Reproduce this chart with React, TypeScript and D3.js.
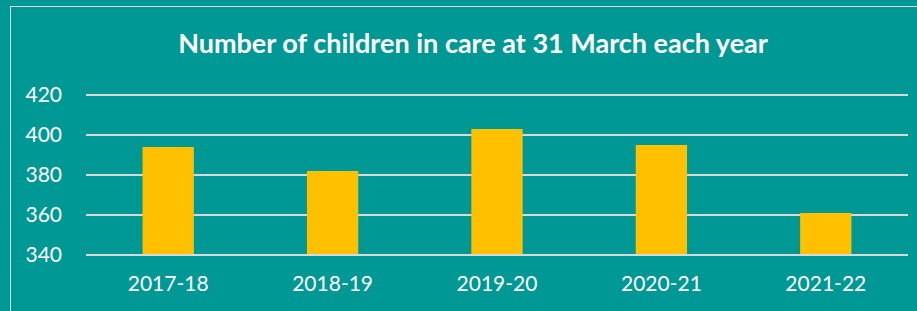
import React, { useEffect, useRef } from 'react';
import * as d3 from 'd3';

const years = ['2017-18', '2018-19', '2019-20', '2020-21', '2021-22'];
const children = [394, 382, 403, 395, 361];
const yTicks = [340, 360, 380, 400, 420];
const title = 'Number of children in care at 31 March each year';

const W = 917;
const H = 311;

const ChildrenChart = () => {
  const ref = useRef<SVGSVGElement>(null);

  useEffect(() => {
    const svg = d3.select(ref.current);
    svg.selectAll('*').remove();

    const margin = { top: 95, right: 9, bottom: 56, left: 86 };
    const width = W - margin.left - margin.right;
    const height = H - margin.top - margin.bottom;

    svg.append('rect')
      .attr('width', W)
      .attr('height', H)
      .attr('fill', '#009894');

    svg.append('rect')
      .attr('x', 10.5)
      .attr('y', 6.5)
      .attr('width', W + 10)
      .attr('height', H + 10)
      .attr('fill', 'none')
      .attr('stroke', '#d9d9d9')
      .attr('stroke-width', 1);

    svg.append('text')
      .attr('x', 473)
      .attr('y', 53)
      .attr('text-anchor', 'middle')
      .attr('fill', '#fff')
      .attr('font-family', 'Lato, sans-serif')
      .attr('font-weight', 'bold')
      .attr('font-size', 27)
      .text(title);

    const g = svg.append('g')
      .attr('transform', `translate(${margin.left},${margin.top})`);

    const x = d3.scaleBand()
      .domain(years)
      .range([0, width])
      .paddingInner(0.688)
      .paddingOuter(0.344);

    const y = d3.scaleLinear()
      .domain([340, 420])
      .range([height, 0]);

    // gridlines
    g.append('g')
      .selectAll('line')
      .data(yTicks)
      .join('line')
      .attr('x1', 0)
      .attr('x2', width)
      .attr('y1', d => y(d))
      .attr('y2', d => y(d))
      .attr('stroke', '#d9d9d9')
      .attr('stroke-width', 2);

    g.append('g')
      .selectAll('rect')
      .data(children)
      .join('rect')
      .attr('x', (d, i) => x(years[i]))
      .attr('y', d => y(d))
      .attr('width', x.bandwidth())
      .attr('height', d => height - y(d) - 1)
      .attr('fill', '#ffc000');

    const yAxis = g.append('g')
      .attr('transform', 'translate(-24,0)')
      .call(d3.axisLeft(y).tickValues(yTicks).tickSize(0).tickPadding(0));
    yAxis.select('.domain').remove();
    yAxis.selectAll('text')
      .attr('fill', '#fff')
      .attr('font-family', 'Lato, sans-serif')
      .attr('font-size', 21);

    const xAxis = g.append('g')
      .attr('transform', `translate(0,${height})`)
      .call(d3.axisBottom(x).tickSize(0).tickPadding(21));
    xAxis.select('.domain').remove();
    xAxis.selectAll('text')
      .attr('fill', '#fff')
      .attr('font-family', 'Lato, sans-serif')
      .attr('font-size', 21);
  }, []);

  return (
    <svg ref={ref} width={W} height={H} style={{ position: 'absolute', left: 0, top: 0 }}></svg>
  );
};

export default function App() {
  return <ChildrenChart />;
}
